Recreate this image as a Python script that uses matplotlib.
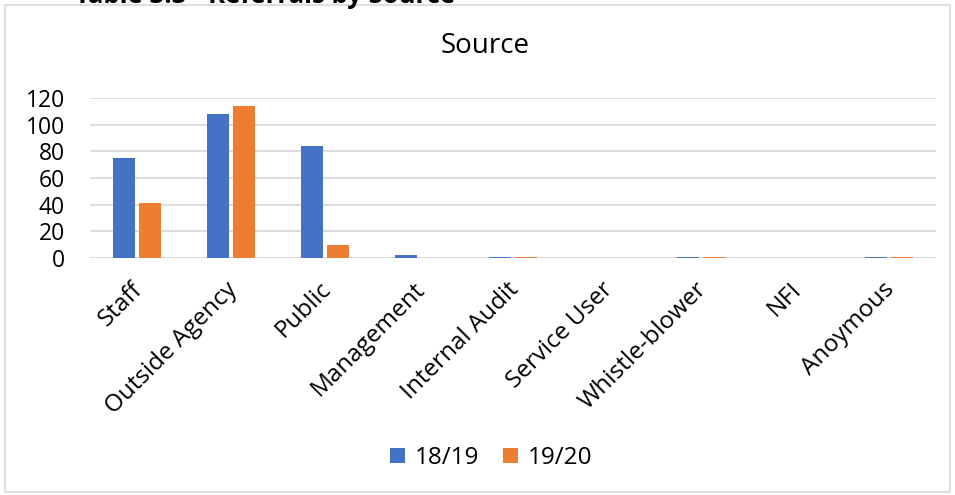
import matplotlib
matplotlib.use("Agg")
import matplotlib.pyplot as plt
import matplotlib.transforms as mtransforms
import numpy as np
from matplotlib.patches import Rectangle

categories = ["Staff", "Outside Agency", "Public", "Management", "Internal Audit",
              "Service User", "Whistle-blower", "NFI", "Anoymous"]
s1819 = [75, 108, 84, 2, 1, 0, 1, 0, 1]
s1920 = [41, 114, 10, 0, 1, 0, 1, 0, 1]
yticks = [0, 20, 40, 60, 80, 100, 120]

plt.rcParams['font.family'] = ['Open Sans', 'DejaVu Sans']

fig = plt.figure(figsize=(9.55, 4.95), dpi=100)
ax = fig.add_axes([90/955, 1-258/495, 846/955, 160/495])

x = np.arange(len(categories))
w = 0.235
blue = "#4472C4"
orange = "#ED7D31"
ax.bar(x - w/2 - 0.025, s1819, w, color=blue, label="18/19", zorder=3)
ax.bar(x + w/2 + 0.025, s1920, w, color=orange, label="19/20", zorder=3)

ax.set_xlim(-0.5, len(categories) - 0.5)
ax.set_ylim(0, 120)
ax.set_yticks(yticks)
ax.set_yticklabels([str(v) for v in yticks], fontsize=16.5)
ax.yaxis.grid(True, color="#D9D9D9", linewidth=1.3, zorder=0)
ax.tick_params(axis='both', length=0)
ax.tick_params(axis='y', pad=18)
for sp in ax.spines.values():
    sp.set_visible(False)
ax.axhline(0, color="#D9D9D9", linewidth=1.3, zorder=2)
ax.set_xticks(x)
ax.set_xticklabels(categories, rotation=45, ha='right', va='top',
                   rotation_mode='anchor', fontsize=17.5)
ax.tick_params(axis='x', pad=14)
offset = mtransforms.ScaledTranslation(-6/100, 0, fig.dpi_scale_trans)
for lbl in ax.get_xticklabels():
    lbl.set_transform(lbl.get_transform() + offset)

fig.text(485/955, 1-46/495, "Source", ha='center', va='center', fontsize=20)

leg = fig.legend(loc='center', bbox_to_anchor=(491/955, 1-458/495), ncol=2, frameon=False,
                 fontsize=17.5, handlelength=0.6, handleheight=0.6, columnspacing=1.0,
                 handletextpad=0.4)

border = Rectangle((5/955, 1-492/495), 945/955, 487/495, transform=fig.transFigure,
                   fill=False, edgecolor="#D9D9D9", linewidth=1.2)
fig.patches.append(border)
fig.text(75/955, 1-3/495, "Table 3.3 - Referrals by Source", ha='left', va='baseline',
         fontsize=18.5, fontweight='bold')

fig.savefig("out.png", dpi=100)
